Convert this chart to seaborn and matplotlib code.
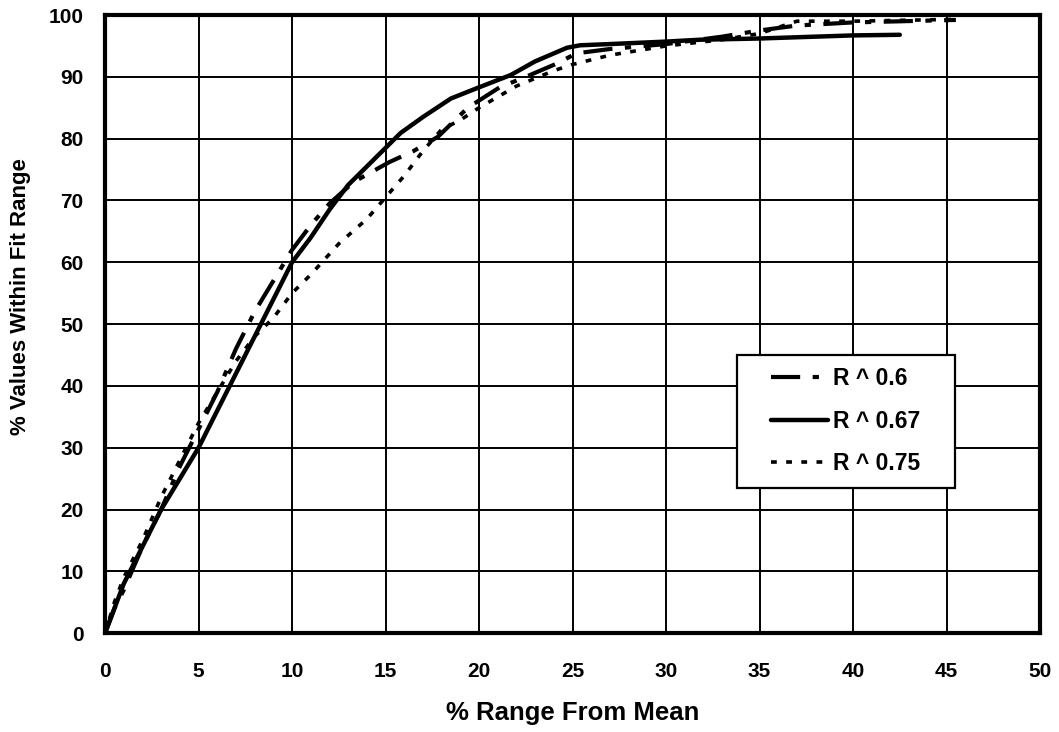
import pandas as pd
import matplotlib.pyplot as plt
import seaborn as sns
from matplotlib.patches import Rectangle

# values
x_06 = [0, 0.5, 1, 2, 3, 4, 5, 6, 7, 8, 9, 10, 11, 12, 13.3, 15.2, 16.5, 17.8, 19.4, 21.1,
        22.5, 24.2, 25.2, 27, 30, 33, 35, 37, 40, 45.5]
y_06 = [0, 4, 7, 14, 20, 27, 33, 39, 46, 52, 57, 62, 66, 69.5, 73, 76.2, 78, 80.3, 85, 88.3,
        90, 92.2, 93.8, 94.5, 95.3, 96.5, 97.5, 98.3, 98.8, 99.2]

x_067 = [0, 0.5, 1, 2, 3, 4, 5, 6, 7, 8, 9, 10, 11, 12, 13, 14, 15, 15.8, 17, 18.5, 20,
         21.7, 23, 24.7, 25.4, 27, 30, 31.8, 35, 40, 42.5]
y_067 = [0, 4, 8, 14, 20, 25, 30, 36, 42, 48, 54, 60, 64, 68.5, 72.5, 75.5, 78.5, 80.9,
         83.5, 86.5, 88.3, 90.3, 92.5, 94.7, 95.1, 95.3, 95.7, 96, 96.2, 96.7, 96.8]

x_075 = [0, 0.5, 1, 2, 3, 4, 5, 6, 7, 8, 9, 10, 11, 12.5, 14, 15, 16, 17, 18, 19, 20,
         22, 24, 25, 27, 30, 33, 35, 37, 40, 45.5]
y_075 = [0, 5, 9, 15, 22, 28, 34, 39, 44, 48, 51, 55, 58, 63, 67, 70.5, 74, 78, 81.5, 83,
         85, 88.5, 91, 92, 93.5, 95, 96, 97, 99, 99, 99.3]

labels = ['R ^ 0.6', 'R ^ 0.67', 'R ^ 0.75']

df = pd.concat([
    pd.DataFrame({'x': x_06, 'y': y_06, 'series': labels[0]}),
    pd.DataFrame({'x': x_067, 'y': y_067, 'series': labels[1]}),
    pd.DataFrame({'x': x_075, 'y': y_075, 'series': labels[2]}),
])

sns.set_style('white')
plt.rcParams['font.family'] = ['Liberation Sans', 'DejaVu Sans']
plt.rcParams['font.weight'] = 'bold'
for k in ['text.color', 'axes.labelcolor', 'xtick.color', 'ytick.color']:
    plt.rcParams[k] = 'black'

fig = plt.figure(figsize=(10.59, 7.32), dpi=100)
ax = fig.add_axes([0.0992, 0.135, 0.8829, 0.8445])

# line width and dash pattern per series
styles = {labels[0]: dict(dashes=(7, 3, 1.5, 3), lw=3.0),
          labels[1]: dict(dashes=(), lw=3.2),
          labels[2]: dict(dashes=(1.6, 2.6), lw=2.6)}
for name in labels:
    sub = df[df['series'] == name]
    st = styles[name]
    sns.lineplot(data=sub, x='x', y='y', ax=ax, color='black',
                 lw=st['lw'], label=name, sort=False)
    if st['dashes']:
        ax.get_lines()[-1].set_dashes(st['dashes'])

ax.set_xlim(0, 50)
ax.set_ylim(0, 100)
ax.set_xticks(range(0, 51, 5))
ax.set_yticks(range(0, 101, 10))
ax.grid(True, color='black', lw=1.4)
for s in ax.spines.values():
    s.set_linewidth(3)
    s.set_color('black')
ax.tick_params(axis='both', direction='out', length=6.5, width=1.5, labelsize=15)
ax.tick_params(axis='x', pad=14)
ax.tick_params(axis='y', pad=9)
ax.set_xlabel('% Range From Mean', fontsize=18.5, fontweight='bold')
ax.set_ylabel('% Values Within Fit Range', fontsize=16, fontweight='bold')
ax.xaxis.set_label_coords(0.5, -0.110)
ax.yaxis.set_label_coords(-0.079, 0.544)

# legend box
box = (0.676, 0.235, 0.233, 0.215)
ax.add_patch(Rectangle(box[:2], box[2], box[3], transform=ax.transAxes,
                       facecolor='white', edgecolor='black', lw=1.6, zorder=4))
leg = ax.legend(loc='center', bbox_to_anchor=(box[0] + box[2] / 2, box[1] + box[3] / 2),
                fontsize=16.5, frameon=False, handlelength=2.45, handletextpad=0.25,
                labelspacing=0.85, borderpad=0)

plt.savefig('out.png', dpi=100)
